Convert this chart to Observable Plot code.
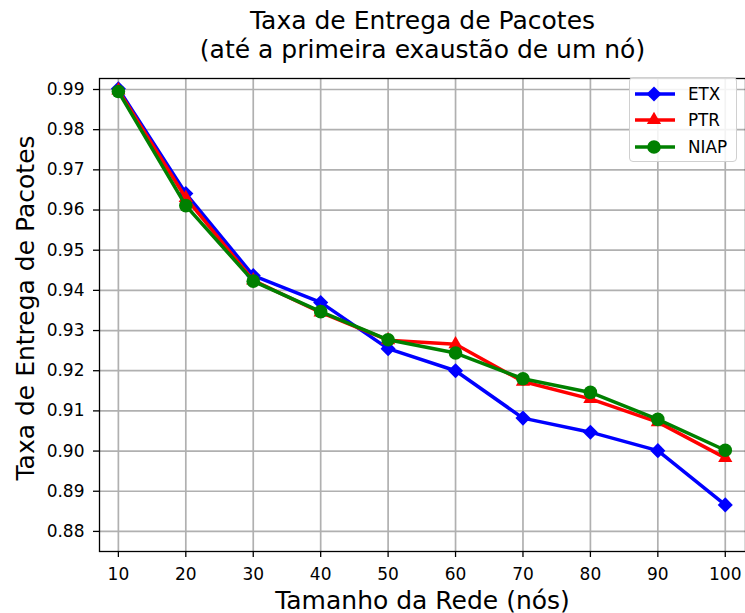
<!DOCTYPE html>
<html>
<head>
<meta charset="utf-8">
<script src="https://cdn.jsdelivr.net/npm/d3@7"></script>
<script src="https://cdn.jsdelivr.net/npm/@observablehq/plot@0.6"></script>
<style>
  body { margin: 0; background: #fff; font-family: "DejaVu Sans", sans-serif; }
  #wrap { position: relative; width: 745px; height: 613px; }
  #legend { position: absolute; left: 629px; top: 77px; width: 108px; height: 85px;
    border: 1px solid #d0d0d0; border-radius: 4px; background: rgba(255,255,255,0.85); box-sizing: border-box; }
  .row { position: absolute; left: 5px; height: 26px; display: flex; align-items: center; }
  .row svg { display: block; }
  .row span { font-size: 16.8px; margin-left: 13px; color: #000; line-height: 26px; }
</style>
</head>
<body>
<div id="wrap"></div>
<script>
const sizes = [10, 20, 30, 40, 50, 60, 70, 80, 90, 100];
const etx  = [0.9902, 0.9641, 0.9437, 0.9370, 0.9255, 0.9200, 0.9082, 0.9047, 0.9001, 0.8866];
const ptr  = [0.9898, 0.9630, 0.9425, 0.9345, 0.9276, 0.9266, 0.9173, 0.9130, 0.9072, 0.8983];
const niap = [0.9895, 0.9611, 0.9423, 0.9347, 0.9277, 0.9244, 0.9180, 0.9146, 0.9079, 0.9002];
const seriesNames = ["ETX", "PTR", "NIAP"];
const seriesColors = ["#0000ff", "#ff0000", "#008000"];
const seriesSymbols = ["diamond2", "triangle2", "circle"];
const xTicks = [10, 20, 30, 40, 50, 60, 70, 80, 90, 100];
const yTicks = [0.88, 0.89, 0.90, 0.91, 0.92, 0.93, 0.94, 0.95, 0.96, 0.97, 0.98, 0.99];
const titleLines = ["Taxa de Entrega de Pacotes", "(até a primeira exaustão de um nó)"];
const xLabel = "Tamanho da Rede (nós)";
const yLabel = "Taxa de Entrega de Pacotes";

const allSeries = [etx, ptr, niap];
const data = [];
allSeries.forEach((vals, i) => sizes.forEach((s, j) => data.push({series: seriesNames[i], x: s, y: vals[j]})));

const R = 6.8;
const lineMarks = [];
seriesNames.forEach((name, i) => {
  const d = data.filter(r => r.series === name);
  lineMarks.push(Plot.line(d, {x: "x", y: "y", stroke: seriesColors[i], strokeWidth: 3.5}));
  lineMarks.push(Plot.dot(d, {x: "x", y: "y", fill: seriesColors[i], stroke: "none", symbol: seriesSymbols[i], r: R}));
});

const chart = Plot.plot({
  width: 745, height: 613,
  marginLeft: 99, marginRight: 0, marginTop: 78, marginBottom: 62,
  style: {fontFamily: "DejaVu Sans", fontSize: "17px", background: "white", color: "black"},
  x: {domain: [7.2, 103]},
  y: {domain: [0.8750, 0.99274]},
  marks: [
    Plot.gridX(xTicks, {stroke: "#b0b0b0", strokeOpacity: 1, strokeWidth: 1.7}),
    Plot.gridY(yTicks, {stroke: "#b0b0b0", strokeOpacity: 1, strokeWidth: 1.7}),
    ...lineMarks,
    Plot.frame({stroke: "black", strokeWidth: 1.3}),
    Plot.axisX(xTicks, {tickSize: 6, tickPadding: 10, fontSize: 17, label: null, stroke: "black", strokeWidth: 1.3}),
    Plot.axisY(yTicks, {tickSize: 6, tickPadding: 9, fontSize: 17, label: null, tickFormat: d3.format(".2f"), stroke: "black", strokeWidth: 1.3}),
    Plot.text([xLabel], {frameAnchor: "bottom", dy: 49, fontSize: 25, lineAnchor: "middle", textAnchor: "middle"}),
    Plot.text([yLabel], {frameAnchor: "left", dx: -74, dy: -7, rotate: -90, fontSize: 25, lineAnchor: "middle", textAnchor: "middle"}),
    Plot.text([titleLines[0]], {frameAnchor: "top", dy: -58, fontSize: 25, lineAnchor: "middle", textAnchor: "middle"}),
    Plot.text([titleLines[1]], {frameAnchor: "top", dy: -29, fontSize: 25, lineAnchor: "middle", textAnchor: "middle"})
  ]
});
document.getElementById("wrap").appendChild(chart);

// legend
const legend = document.createElement("div");
legend.id = "legend";
const symMap = {diamond2: d3.symbolDiamond2, triangle2: d3.symbolTriangle2, circle: d3.symbolCircle};
seriesNames.forEach((name, i) => {
  const row = document.createElement("div");
  row.className = "row";
  row.style.top = (2.5 + i * 26.5) + "px";
  const sym = d3.symbol(symMap[seriesSymbols[i]], Math.PI * R * R)();
  row.innerHTML = `<svg width="40" height="26"><line x1="0" x2="40" y1="13" y2="13" stroke="${seriesColors[i]}" stroke-width="3.5"/><path transform="translate(19,13)" d="${sym}" fill="${seriesColors[i]}"/></svg><span>${name}</span>`;
  legend.appendChild(row);
});
document.getElementById("wrap").appendChild(legend);
</script>
</body>
</html>
